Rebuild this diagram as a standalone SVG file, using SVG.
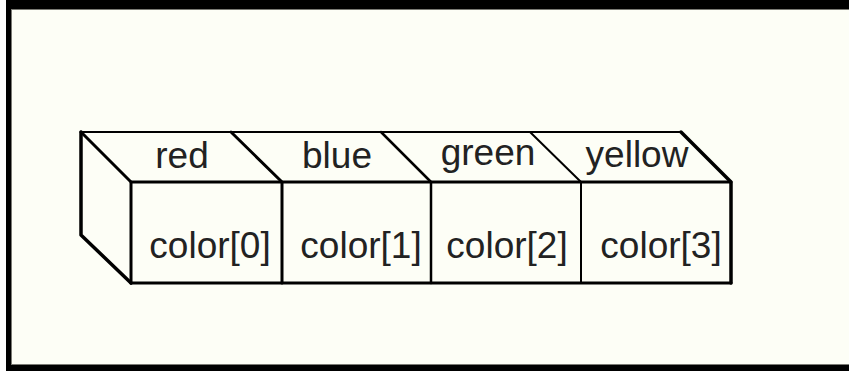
<svg xmlns="http://www.w3.org/2000/svg" width="849" height="371" viewBox="0 0 849 371">
<style>
.ln{stroke:#000;fill:none;stroke-linecap:round;stroke-linejoin:round}
.t{font-family:"Liberation Sans",Arial,sans-serif;font-size:37px;fill:#222;text-anchor:middle}
</style>
<rect x="0" y="0" width="849" height="371" fill="#ffffff"/>
<rect x="6" y="0" width="843" height="371" fill="#000"/>
<rect x="11" y="9" width="838" height="356" fill="#7a7a74"/>
<rect x="12" y="10" width="837" height="354" fill="#FDFEF6"/>
<g id="connectors">
<path class="ln" d="M81,132 H681" stroke-width="2"/>
<path class="ln" d="M131,182 H731" stroke-width="3"/>
<path class="ln" d="M131,283 H731" stroke-width="3"/>
</g>
<g id="side">
<path class="ln" d="M81,132 V235 L131,283" stroke-width="3.5"/>
<path class="ln" d="M81,132 L131,182 V283" stroke-width="3"/>
</g>
<g id="cell0">
<path class="ln" d="M231,132 L282,182 V283" stroke-width="3"/>
<text class="t" x="182" y="168">red</text>
<text class="t" x="210" y="258">color[0]</text>
</g>
<g id="cell1">
<path class="ln" d="M381,132 L431,182 V283" stroke-width="2.5"/>
<text class="t" x="337" y="168">blue</text>
<text class="t" x="361" y="258">color[1]</text>
</g>
<g id="cell2">
<path class="ln" d="M530,132 L581,182 V283" stroke-width="2"/>
<text class="t" x="488" y="165">green</text>
<text class="t" x="507" y="258">color[2]</text>
</g>
<g id="cell3">
<path class="ln" d="M681,132 L731,182 V283" stroke-width="3.5"/>
<text class="t" x="637" y="167">yellow</text>
<text class="t" x="661" y="258">color[3]</text>
</g>
</svg>
